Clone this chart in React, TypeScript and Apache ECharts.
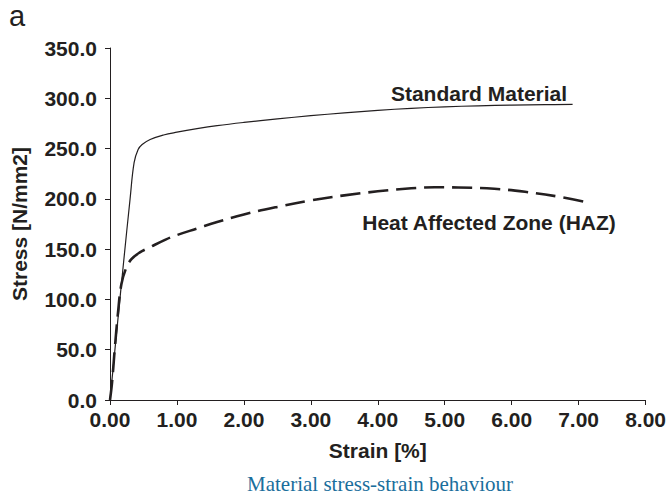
import React, { useEffect, useRef } from "react";
import * as echarts from "echarts";

const standardStrain = [0, 0.1, 0.2, 0.3, 0.36, 0.42, 0.48, 0.6, 0.8, 1.0, 1.3, 1.6, 2.0, 2.5, 3.0, 3.5, 4.0, 4.5, 5.0, 5.5, 6.0, 6.5, 6.91];
const standardStress = [0, 68, 135, 200, 236, 249, 254, 259, 263.5, 266.3, 269.8, 272.8, 276, 279.5, 282.7, 285.5, 288, 290, 291.5, 292.5, 293.2, 293.6, 294];

const hazStrain = [0, 0.03, 0.07, 0.12, 0.17, 0.24, 0.32, 0.44, 0.6, 0.83, 1.0, 1.3, 1.6, 2.0, 2.5, 3.0, 3.5, 4.0, 4.5, 4.85, 5.2, 5.74, 6.2, 6.72, 7.1];
const hazStress = [0, 17, 50, 87, 115, 131, 140, 146.5, 152, 159.5, 164, 170.5, 177, 184.5, 192, 198.5, 203.5, 207.5, 210.5, 211.5, 211.3, 210, 207, 202, 197];

const xTicks = { min: 0, max: 8, interval: 1 };
const yTicks = { min: 0, max: 350, interval: 50 };

const TEXT = "#231f20";
const FONT = "Liberation Sans, Arial, sans-serif";
const FS = 21;

export default function App() {
  const ref = useRef<HTMLDivElement>(null);
  useEffect(() => {
    if (!ref.current) return;
    const chart = echarts.init(ref.current, null, { renderer: "svg" });
    const pair = (xs: number[], ys: number[]) => xs.map((x, i) => [x, ys[i]]);
    chart.setOption({
      animation: false,
      backgroundColor: "#ffffff",
      grid: { left: 110, right: 15, top: 48, bottom: 95 },
      xAxis: {
        type: "value",
        ...xTicks,
        name: "Strain [%]",
        nameLocation: "middle",
        nameGap: 40,
        nameTextStyle: { color: TEXT, fontFamily: FONT, fontWeight: "bold", fontSize: FS },
        axisLine: { show: true, lineStyle: { color: TEXT, width: 1 } },
        axisTick: { show: true, inside: false, length: 5, lineStyle: { color: TEXT } },
        splitLine: { show: false },
        axisLabel: {
          color: TEXT,
          fontFamily: FONT,
          fontWeight: "bold",
          fontSize: FS,
          margin: 9,
          formatter: (v: number) => v.toFixed(2),
        },
      },
      yAxis: {
        type: "value",
        ...yTicks,
        name: "Stress [N/mm2]",
        nameLocation: "middle",
        nameGap: 80,
        nameRotate: 90,
        nameTextStyle: { color: TEXT, fontFamily: FONT, fontWeight: "bold", fontSize: FS },
        axisLine: { show: true, lineStyle: { color: TEXT, width: 1 } },
        axisTick: { show: true, inside: false, length: 5, lineStyle: { color: TEXT } },
        splitLine: { show: false },
        axisLabel: {
          color: TEXT,
          fontFamily: FONT,
          fontWeight: "bold",
          fontSize: FS,
          margin: 13,
          formatter: (v: number) => v.toFixed(1),
        },
      },
      series: [
        {
          name: "Standard Material",
          type: "line",
          data: pair(standardStrain, standardStress),
          showSymbol: false,
          smooth: 0.4,
          lineStyle: { color: TEXT, width: 1.2 },
        },
        {
          name: "Heat Affected Zone (HAZ)",
          type: "line",
          data: pair(hazStrain, hazStress),
          showSymbol: false,
          smooth: 0.4,
          lineStyle: { color: TEXT, width: 2.6, type: [20, 8] },
        },
      ],
      graphic: [
        {
          type: "text",
          left: 9,
          top: 1,
          style: { text: "a", fill: TEXT, font: `29px ${FONT}` },
        },
        {
          type: "text",
          x: 479,
          y: 93,
          style: {
            text: "Standard Material",
            fill: TEXT,
            font: `bold ${FS}px ${FONT}`,
            textAlign: "center",
            textVerticalAlign: "middle",
          },
        },
        {
          type: "text",
          x: 489,
          y: 222,
          style: {
            text: "Heat Affected Zone (HAZ)",
            fill: TEXT,
            font: `bold ${FS}px ${FONT}`,
            textAlign: "center",
            textVerticalAlign: "middle",
          },
        },
        {
          type: "text",
          x: 380,
          y: 484,
          style: {
            text: "Material stress-strain behaviour",
            fill: "#1a6e9c",
            font: `21px "Liberation Serif", "Times New Roman", serif`,
            textAlign: "center",
            textVerticalAlign: "middle",
          },
        },
      ],
    });
    return () => chart.dispose();
  }, []);
  return (
    <div
      ref={ref}
      style={{ position: "fixed", left: 0, top: 0, width: 669, height: 495 }}
    />
  );
}
